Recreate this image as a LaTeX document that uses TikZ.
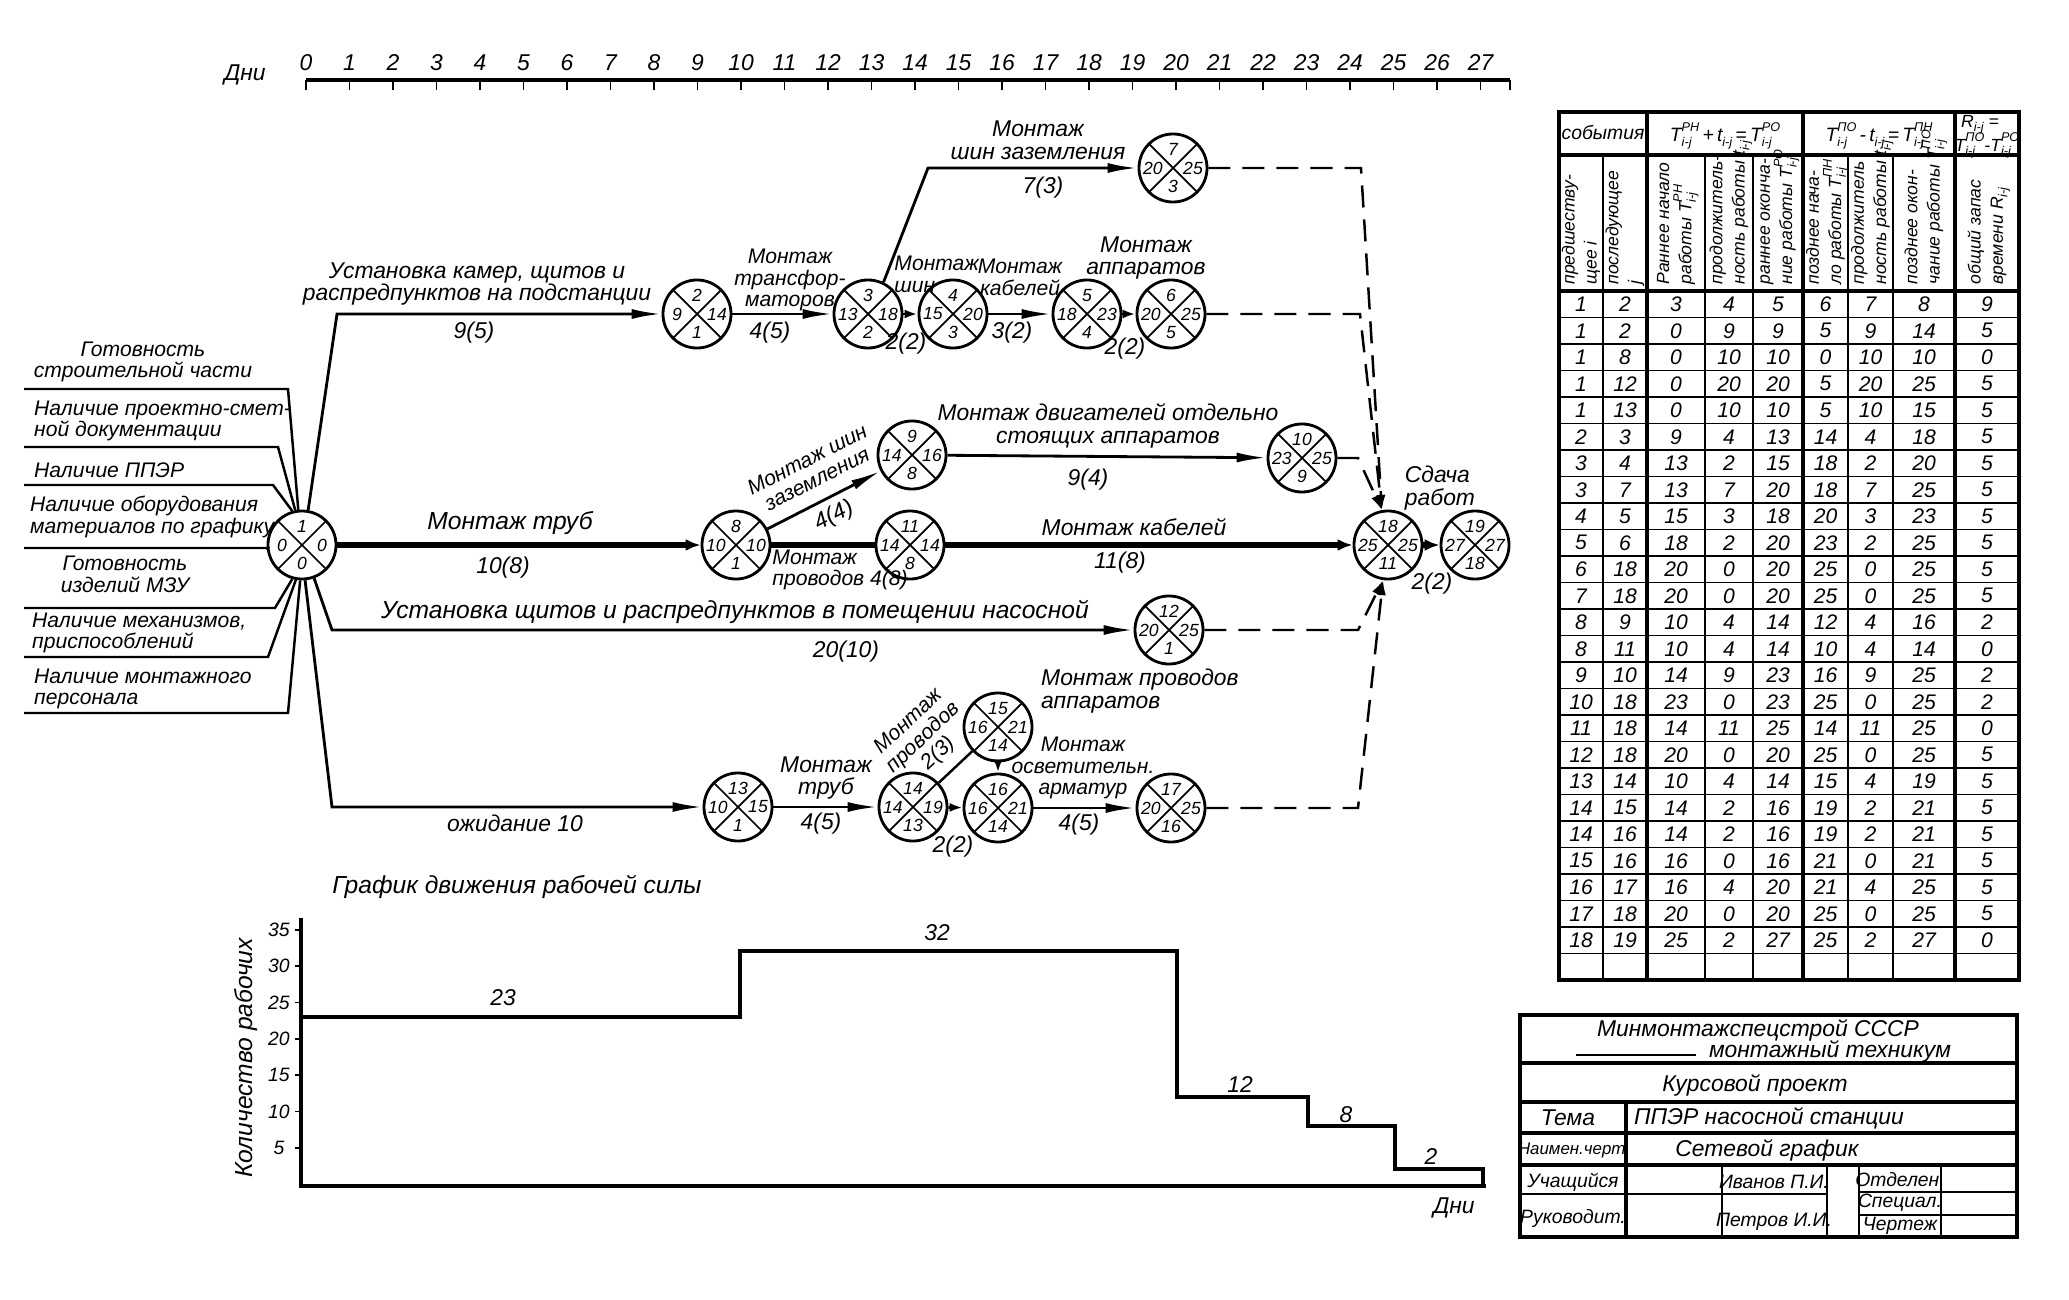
\documentclass[tikz,border=0pt]{standalone}
\usepackage{fontspec}
\setmainfont{Liberation Sans}
\usetikzlibrary{arrows.meta}
\tikzset{
	ev/.style={circle, draw, line width=0.8pt, minimum size=0.68cm, inner sep=0pt,
		path picture={\draw [line width=0.5pt] (path picture bounding box.north west) -- (path picture bounding box.south east)
			(path picture bounding box.south west) -- (path picture bounding box.north east);}},
	num/.style={font=\fontsize{5}{5.5}\selectfont\itshape, inner sep=0pt},
	lbl/.style={font=\fontsize{6.5}{6.4}\selectfont\itshape, inner sep=1pt, align=center},
	tight/.style={font=\fontsize{6}{6.2}\selectfont\itshape, inner sep=0.5pt, align=center},
	side/.style={font=\fontsize{6}{6.2}\selectfont\itshape, inner sep=1pt, align=left},
	wide/.style={font=\fontsize{7}{7}\selectfont\itshape, inner sep=1pt},
	small/.style={font=\fontsize{5.5}{6}\selectfont\itshape, inner sep=1pt, align=center},
	head/.style={font=\fontsize{5}{6.3}\selectfont\itshape, inner sep=0.5pt, align=left},
	cell/.style={font=\fontsize{6}{6}\selectfont\itshape, inner sep=0pt},
	ln/.style={line width=0.7pt},
	act/.style={line width=0.8pt, -{Latex[length=3mm,width=1mm]}},
	shortact/.style={line width=0.8pt, -{Latex[length=1.3mm,width=0.9mm]}},
	crit/.style={line width=1.6pt, -{Latex[length=1.5mm,width=1.2mm]}},
	dum/.style={line width=0.7pt, dash pattern=on 2.2mm off 1.2mm, -{Latex[length=1.5mm,width=0.9mm]}},
	bord/.style={line width=0.9pt},
	thinl/.style={line width=0.5pt}
}
\newcommand{\event}[6]{%
	\node [ev] (#1) at (#2) {};
	\node [num] (#1t) at ([yshift=0.185cm]#1.center) {#3};
	\node [num] (#1l) at ([xshift=-0.2cm]#1.center) {#4};
	\node [num] (#1r) at ([xshift=0.2cm]#1.center) {#5};
	\node [num] (#1b) at ([yshift=-0.185cm]#1.center) {#6};
}
\newcommand{\ts}[3]{#1\raisebox{-0.5ex}[0pt][0pt]{\makebox[0pt][l]{\fontsize{3.6}{3.6}\selectfont #3}}\raisebox{1ex}[0pt][0pt]{\fontsize{3.6}{3.6}\selectfont #2}}
\newcommand{\tb}[2]{#1\raisebox{-0.5ex}[0pt][0pt]{\fontsize{3.6}{3.6}\selectfont #2}}
\def\colx{{1581,1625,1676,1729,1778,1825.5,1870.5,1924,1987}}
\begin{document}
\begin{tikzpicture}[x=0.01cm, y=-0.01cm]
	\useasboundingbox (0,0) rectangle (2069,1300);
	\fill [white] (0,0) rectangle (2069,1300);
	\node [lbl] (dni) at (245,75) {Дни};
	\draw [line width=1.2pt] (306,80) -- (1510,80);
	\foreach \d in {0,...,27} {
		\draw [thinl] (306+43.5*\d,80) -- ++(0,10);
		\node [lbl] (d\d) at (306+43.5*\d,63) {\d};
	}
	\draw [thinl] (1510,80) -- ++(0,10);
	\event{e1}{302,545}{1}{0}{0}{0}
	\event{e2}{697,314}{2}{9}{14}{1}
	\event{e3}{868,314}{3}{13}{18}{2}
	\event{e4}{953,314}{4}{15}{20}{3}
	\event{e5}{1087,314}{5}{18}{23}{4}
	\event{e6}{1171,314}{6}{20}{25}{5}
	\event{e7}{1173,168}{7}{20}{25}{3}
	\event{e8}{736,545}{8}{10}{10}{1}
	\event{e9}{912,455}{9}{14}{16}{8}
	\event{e10}{1302,458}{10}{23}{25}{9}
	\event{e11}{910,545}{11}{14}{14}{8}
	\event{e12}{1169,630}{12}{20}{25}{1}
	\event{e13}{738,807}{13}{10}{15}{1}
	\event{e14}{913,807}{14}{14}{19}{13}
	\event{e15}{998,727}{15}{16}{21}{14}
	\event{e16}{998,808}{16}{16}{21}{14}
	\event{e17}{1171,808}{17}{20}{25}{16}
	\event{e18}{1388,545}{18}{25}{25}{11}
	\event{e19}{1475,545}{19}{27}{27}{18}
	\foreach \y/\xe/\a [count=\i] in {389/288/96, 447/278/101, 485/273/106, 548/268/188, 608/275/-106, 657/268/-100, 713/288/-93} {
		\coordinate (g\i) at (24,\y);
		\coordinate (h\i) at (\xe,\y);
		\draw [ln] (g\i) -- (h\i) -- (e1.\a);
	}
	\node [side, align=center] (in1) at (143,362) {Готовность\\строительной части};
	\node [side, anchor=west] (in2) at (30,421) {Наличие проектно-смет-\\ной документации};
	\node [side, anchor=west] (in3) at (30,470) {Наличие ППЭР};
	\node [side, anchor=west] (in4) at (26,517) {Наличие оборудования\\материалов по графику};
	\node [side, align=center] (in5) at (125,574) {Готовность\\изделий МЗУ};
	\node [side, anchor=west] (in6) at (28,633) {Наличие механизмов,\\приспособлений};
	\node [side, anchor=west] (in7) at (30,689) {Наличие монтажного\\персонала};
	\coordinate (k12) at (337,314);
	\coordinate (k37) at (928,168);
	\coordinate (k112) at (332,630);
	\coordinate (k113) at (332,807);
	\coordinate (k7) at (1361,168);
	\coordinate (k6) at (1360,314);
	\coordinate (k10) at (1358,458);
	\coordinate (k12d) at (1358,630);
	\coordinate (k17) at (1358,808);
	\draw [act] (e1.80) -- (k12) -- (e2);
	\draw [act] (e2) -- (e3);
	\draw [shortact] (e3) -- (e4);
	\draw [act] (e4) -- (e5);
	\draw [shortact] (e5) -- (e6);
	\draw [act] (e3.64) -- (k37) -- (e7);
	\draw [dum] (e7) -- (k7) -- (e18.100);
	\draw [dum] (e6) -- (k6) -- (e18.100);
	\draw [dum] (e10) -- (k10) -- (e18.100);
	\draw [crit] (e1) -- (e8);
	\draw [act] (e8) -- (e9);
	\draw [line width=1.6pt] (e8) -- (e11);
	\draw [act] (e9) -- (e10);
	\draw [crit] (e11) -- (e18);
	\draw [crit] (e18) -- (e19);
	\draw [act] (e1.-70) -- (k112) -- (e12);
	\draw [act] (e1.-85) -- (k113) -- (e13);
	\draw [dum] (e12) -- (k12d) -- (e18.-98);
	\draw [dum] (e17) -- (k17) -- (e18.-98);
	\draw [act] (e13) -- (e14);
	\draw [ln] (e14) -- (e15);
	\draw [shortact, dashed] (e15) -- (e16);
	\draw [shortact] (e14) -- (e16);
	\draw [act] (e16) -- (e17);
	\node [lbl] (tust) at (477,284) {Установка камер, щитов и\\распредпунктов на подстанции};
	\node [lbl] (t95) at (474,333) {9(5)};
	\node [tight] (ttr) at (790,280) {Монтаж\\трансфор-\\маторов};
	\node [lbl] (t45a) at (770,333) {4(5)};
	\node [lbl] (tzaz) at (1038,140) {Монтаж\\шин заземления};
	\node [lbl] (t73) at (1043,188) {7(3)};
	\node [tight, align=left, anchor=west] (tshin) at (892,274) {Монтаж\\шин};
	\node [tight] (tkab) at (1020,277) {Монтаж\\кабелей};
	\node [lbl] (tapp) at (1146,258) {Монтаж\\аппаратов};
	\node [lbl] (t22a) at (906,344) {2(2)};
	\node [lbl] (t32) at (1012,333) {3(2)};
	\node [lbl] (t22b) at (1125,349) {2(2)};
	\node [tight, rotate=27] (tshin2) at (812,469) {Монтаж шин\\заземления};
	\node [lbl, rotate=27] (t44) at (834,516) {4(4)};
	\node [lbl] (tdv) at (1108,426) {Монтаж двигателей отдельно\\стоящих аппаратов};
	\node [lbl] (t94) at (1088,480) {9(4)};
	\node [wide] (ttrub) at (510,523) {Монтаж труб};
	\node [lbl] (t108) at (503,568) {10(8)};
	\node [tight, align=left, anchor=west] (tprov) at (770,570) {Монтаж\\проводов 4(8)};
	\node [lbl] (tkab2) at (1134,527) {Монтаж кабелей};
	\node [lbl] (t118) at (1120,563) {11(8)};
	\node [lbl, align=left] (tsd) at (1440,488) {Сдача\\работ};
	\node [lbl] (t22c) at (1432,584) {2(2)};
	\node [wide] (tust2) at (735,612) {Установка щитов и распредпунктов в помещении насосной};
	\node [lbl] (t2010) at (846,652) {20(10)};
	\node [lbl] (tozh) at (515,823) {ожидание 10};
	\node [lbl] (ttrub2) at (826,778) {Монтаж\\труб};
	\node [lbl] (t45b) at (821,824) {4(5)};
	\node [tight, rotate=43] (tprov2) at (924,738) {Монтаж\\проводов\\2(3)};
	\node [lbl, align=left, anchor=west] (tprovap) at (1037,691) {Монтаж проводов\\аппаратов};
	\node [tight] (tosv) at (1083,768) {Монтаж\\осветительн.\\арматур};
	\node [lbl] (t45c) at (1079,825) {4(5)};
	\node [lbl] (t22d) at (953,847) {2(2)};
	\node [wide] (gtitle) at (517,887) {График движения рабочей силы};
	\draw [line width=1pt] (301,918) -- (301,1186) -- (1486,1186);
	\foreach \w in {5,10,...,35} {
		\draw [thinl] (295,1184-7.26*\w) -- (301,1184-7.26*\w);
		\node [small] (w\w) at (279,1184-7.26*\w) {\w};
	}
	\node [wide, rotate=90] (ylab) at (246,1058) {Количество рабочих};
	\draw [line width=1.3pt] (301,1017) -- (740,1017) -- (740,951) -- (1177,951) -- (1177,1097) -- (1308,1097)
		-- (1308,1126) -- (1395,1126) -- (1395,1169) -- (1483,1169) -- (1483,1186);
	\node [lbl] (g23) at (503,998) {23};
	\node [lbl] (g32) at (937,933) {32};
	\node [lbl] (g12) at (1240,1085) {12};
	\node [lbl] (g8) at (1346,1115) {8};
	\node [lbl] (g2) at (1431,1157) {2};
	\node [lbl] (gdni) at (1454,1208) {Дни};
	\draw [bord] (1559,112) rectangle (2019,980);
	\draw [bord] (1559,155) -- (2019,155);
	\draw [bord] (1559,291) -- (2019,291);
	\foreach \k in {1,...,25} \draw [thinl] (1559,291+26.5*\k) -- (2019,291+26.5*\k);
	\foreach \x in {1647,1803,1955} \draw [bord] (\x,112) -- (\x,980);
	\foreach \x in {1603,1705,1753,1848,1893} \draw [thinl] (\x,155) -- (\x,980);
	\node [small] (h12) at (1603,133) {события};
	\node [small] (h35) at (1725,135) {\ts{T}{РН}{i-j}\,+\,\tb{t}{i-j}\,=\,\ts{T}{РО}{i-j}};
	\node [small] (h68) at (1879,135) {\ts{T}{ПО}{i-j}\,-\,\tb{t}{i-j}\,=\,\ts{T}{ПН}{i-j}};
	\node [head] (h9a) at (1980,121) {\tb{R}{i-j} =};
	\node [head] (h9b) at (1987,145) {\ts{T}{ПО}{i-j}-\ts{T}{РО}{i-j}};
	\node [head, rotate=90, anchor=west] (v1) at (1581,287) {предшеству-\\щее \textit{i}};
	\node [head, rotate=90, anchor=west] (v2) at (1625,287) {последующее\\\textit{j}};
	\node [head, rotate=90, anchor=west] (v3) at (1676,287) {Раннее начало\\работы \ts{T}{РН}{i-j}};
	\node [head, rotate=90, anchor=west] (v4) at (1729,287) {продолжитель-\\ность работы \tb{t}{i-j}};
	\node [head, rotate=90, anchor=west] (v5) at (1778,287) {раннее оконча-\\ние работы \ts{T}{РО}{i-j}};
	\node [head, rotate=90, anchor=west] (v6) at (1825.5,287) {позднее нача-\\ло работы \ts{T}{ПН}{i-j}};
	\node [head, rotate=90, anchor=west] (v7) at (1870.5,287) {продолжитель\\ность работы \tb{t}{i-j}};
	\node [head, rotate=90, anchor=west] (v8) at (1924,287) {позднее окон-\\чание работы \ts{T}{ПО}{i-j}};
	\node [head, rotate=90, anchor=west] (v9) at (1987,287) {общий запас\\времени \tb{R}{i-j}};
	\foreach \row [count=\r] in {{1,2,3,4,5,6,7,8,9}, {1,2,0,9,9,5,9,14,5}, {1,8,0,10,10,0,10,10,0},
		{1,12,0,20,20,5,20,25,5}, {1,13,0,10,10,5,10,15,5}, {2,3,9,4,13,14,4,18,5}, {3,4,13,2,15,18,2,20,5},
		{3,7,13,7,20,18,7,25,5}, {4,5,15,3,18,20,3,23,5}, {5,6,18,2,20,23,2,25,5}, {6,18,20,0,20,25,0,25,5},
		{7,18,20,0,20,25,0,25,5}, {8,9,10,4,14,12,4,16,2}, {8,11,10,4,14,10,4,14,0}, {9,10,14,9,23,16,9,25,2},
		{10,18,23,0,23,25,0,25,2}, {11,18,14,11,25,14,11,25,0}, {12,18,20,0,20,25,0,25,5}, {13,14,10,4,14,15,4,19,5},
		{14,15,14,2,16,19,2,21,5}, {14,16,14,2,16,19,2,21,5}, {15,16,16,0,16,21,0,21,5}, {16,17,16,4,20,21,4,25,5},
		{17,18,20,0,20,25,0,25,5}, {18,19,25,2,27,25,2,27,0}} {
		\foreach \v [count=\c] in \row {
			\pgfmathsetmacro\cx{\colx[\c-1]}
			\node [cell] (c\r-\c) at (\cx,291+26.5*\r-13.25) {\v};
		}
	}
	\draw [bord] (1520,1015) rectangle (2017,1237);
	\draw [bord] (1520,1063) -- (2017,1063);
	\draw [bord] (1520,1102) -- (2017,1102);
	\draw [bord] (1520,1133) -- (2017,1133);
	\draw [bord] (1520,1165) -- (2017,1165);
	\draw [thinl] (1520,1194) -- (1827,1194);
	\draw [thinl] (1859,1192) -- (2017,1192);
	\draw [thinl] (1859,1215) -- (2017,1215);
	\draw [bord] (1626,1102) -- (1626,1237);
	\foreach \x in {1722,1827,1859,1941} \draw [thinl] (\x,1165) -- (\x,1237);
	\draw [thinl] (1576,1055) -- (1696,1055);
	\node [lbl] (b1) at (1758,1030) {Минмонтажспецстрой СССР};
	\node [lbl] (b2) at (1830,1051) {монтажный техникум};
	\node [lbl] (b3) at (1755,1085) {Курсовой проект};
	\node [lbl] (b4) at (1568,1118) {Тема};
	\node [lbl] (b5) at (1769,1118) {ППЭР насосной станции};
	\node [small] (b6) at (1574,1150) {\fontsize{4.8}{5}\selectfont Наимен.черт.};
	\node [lbl] (b7) at (1767,1150) {Сетевой график};
	\node [small] (b8) at (1573,1182) {Учащийся};
	\node [small] (b9) at (1774,1182) {Иванов П.И.};
	\node [small] (b10) at (1573,1218) {Руководит.};
	\node [small] (b11) at (1774,1222) {Петров И.И.};
	\node [small] (b12) at (1900,1180) {Отделен.};
	\node [small] (b13) at (1900,1203) {Специал.};
	\node [small] (b14) at (1900,1226) {Чертеж};
\end{tikzpicture}
\end{document}
